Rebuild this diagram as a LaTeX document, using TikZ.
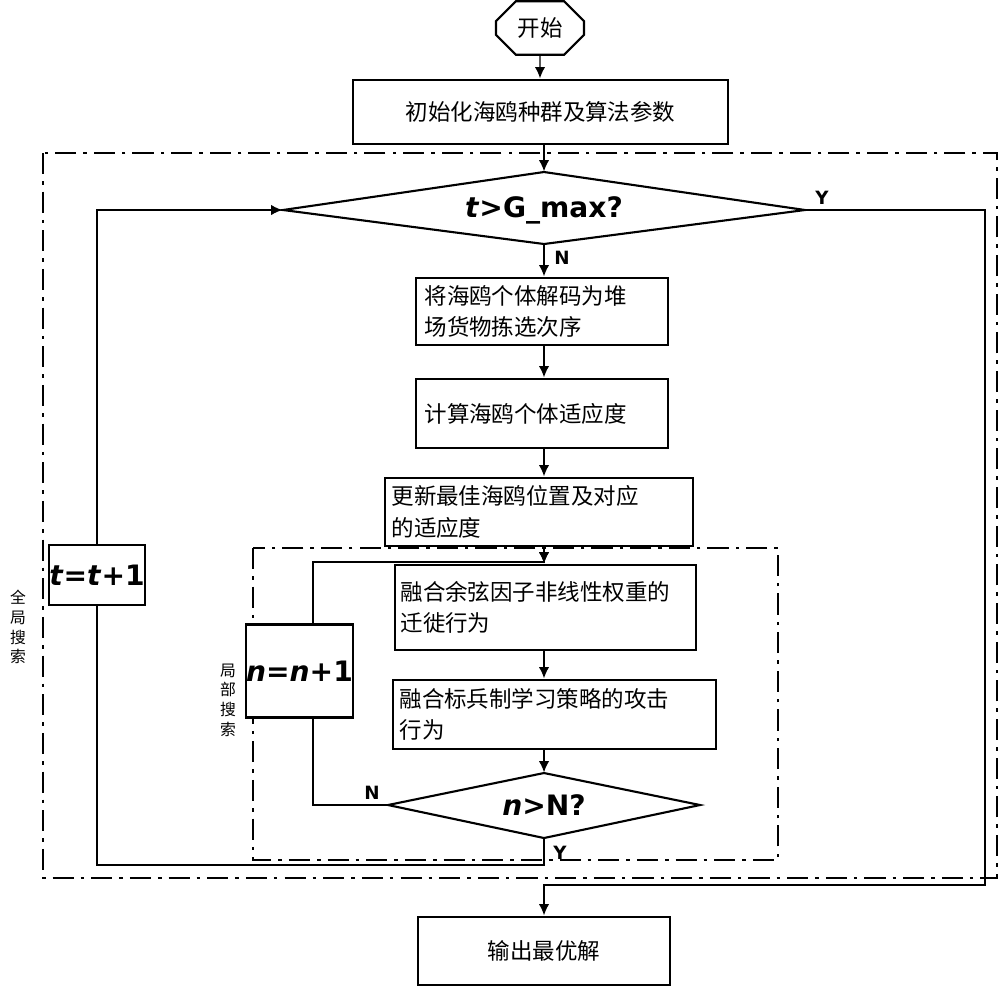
\documentclass[tikz,border=0pt]{standalone}
\usepackage{fontspec}
\setmainfont{DejaVu Sans}
\newfontfamily\cjk{Noto Sans CJK SC}
\usetikzlibrary{arrows.meta,shapes.misc}
\begin{document}
\begin{tikzpicture}[scale=1.0]
\tikzset{ >={Latex[length=1.2mm,width=1.1mm]}, line width=0.5pt,
  box/.style={draw, line width=0.6pt, inner sep=1pt, font=\cjk\fontsize{6.4}{9}\selectfont},
  lbl/.style={font=\bfseries\fontsize{5.2}{6}\selectfont, inner sep=0pt},
  var/.style={font=\bfseries\fontsize{8}{9}\selectfont, inner sep=0pt},
  dashdot/.style={line width=0.7pt, dash pattern=on 6pt off 2pt on 1pt off 2pt},
}
\useasboundingbox (0,0) rectangle (10,-9.87);

%%% Blocos

% inicio
\node [box, chamfered rectangle, chamfered rectangle xsep=2pt, minimum width=0.88cm, minimum height=0.32cm] (start) at (5.40,-0.28) {开始};
\node [box, minimum width=3.75cm, minimum height=0.64cm] (init) at (5.405,-1.12) {初始化海鸥种群及算法参数};

% busca global
\draw [dashdot] (0.43,-1.53) rectangle (9.97,-8.78);
\coordinate (GT) at (5.44,-1.72);
\coordinate (GL) at (2.83,-2.10);
\coordinate (GR) at (8.05,-2.10);
\coordinate (GB) at (5.44,-2.44);
\draw [line width=0.6pt] (GT) -- (GR) -- (GB) -- (GL) -- cycle;
\node [var] (gmax) at (5.44,-2.10) {\textit{t}>G\_max?};

\node [box, text width=2.35cm, minimum width=2.52cm, minimum height=0.67cm, align=left] (dec) at (5.42,-3.115) {将海鸥个体解码为堆\\场货物拣选次序};
\node [box, text width=2.35cm, minimum width=2.52cm, minimum height=0.69cm, align=left] (fit) at (5.42,-4.135) {计算海鸥个体适应度};
\node [box, text width=2.95cm, minimum width=3.08cm, minimum height=0.68cm, align=left] (upd) at (5.39,-5.12) {更新最佳海鸥位置及对应\\的适应度};

% busca local
\draw [dashdot] (2.53,-5.48) rectangle (7.78,-8.60);
\node [box, text width=2.9cm, minimum width=3.01cm, minimum height=0.85cm, align=left] (mig) at (5.455,-6.075) {融合余弦因子非线性权重的\\迁徙行为};
\node [box, text width=3.1cm, minimum width=3.23cm, minimum height=0.69cm, align=left] (att) at (5.545,-7.145) {融合标兵制学习策略的攻击\\行为};
\coordinate (NT) at (5.44,-7.73);
\coordinate (NL) at (3.88,-8.05);
\coordinate (NR) at (7.00,-8.05);
\coordinate (NB) at (5.44,-8.38);
\draw [line width=0.6pt] (NT) -- (NR) -- (NB) -- (NL) -- cycle;
\node [var] (nN) at (5.44,-8.05) {\textit{n}>N?};

\node [box, fill=white, minimum width=2.52cm, minimum height=0.68cm] (out) at (5.44,-9.51) {输出最优解};

%%% Linhas

\draw [->] (start) -- (init.north -| start);
\draw [->] (init.south -| GT) -- (GT);
\draw [->] (GB) -- (dec.north -| GB);
\draw [->] (dec.south -| GB) -- (fit.north -| GB);
\draw [->] (fit.south -| GB) -- (upd.north -| GB);
\draw [->] (upd.south -| GB) -- (mig.north -| GB);
\draw [->] (mig.south -| GB) -- (att.north -| GB);
\draw [->] (att.south -| GB) -- (NT);

% laco local
\coordinate (NLa) at (3.13,-8.05);
\coordinate (NLb) at (3.13,-5.62);
\draw [->] (NL) -- (NLa) -- (NLb) -- (NLb -| GB) -- (mig.north -| GB);
\node [box, fill=white, minimum width=0.67cm, minimum height=0.93cm, var] (ninc) at (2.995,-6.71) {\textit{n}=\textit{n}+1};

% laco global
\coordinate (NBb) at (5.44,-8.65);
\coordinate (GLa) at (0.97,-8.65);
\coordinate (GLb) at (0.97,-2.10);
\draw [->] (NB) -- (NBb) -- (GLa) -- (GLb) -- (GL);
\node [box, fill=white, minimum width=0.92cm, minimum height=0.60cm, var] (tinc) at (0.97,-5.75) {\textit{t}=\textit{t}+1};

% saida
\coordinate (GRa) at (9.85,-2.10);
\coordinate (GRb) at (9.85,-8.85);
\draw [->] (GR) -- (GRa) -- (GRb) -- (GRb -| GB) -- (out.north -| GB);

\node [lbl] at (8.22,-1.98) {Y};
\node [lbl] at (5.62,-2.58) {N};
\node [lbl] at (3.72,-7.93) {N};
\node [lbl] at (5.60,-8.53) {Y};

\node [font=\cjk\fontsize{4.5}{5.6}\selectfont, align=center] (glob) at (0.18,-6.27) {全\\局\\搜\\索};
\node [font=\cjk\fontsize{4.5}{5.6}\selectfont, align=center] (loc) at (2.28,-7.0) {局\\部\\搜\\索};

\end{tikzpicture}
\end{document}
